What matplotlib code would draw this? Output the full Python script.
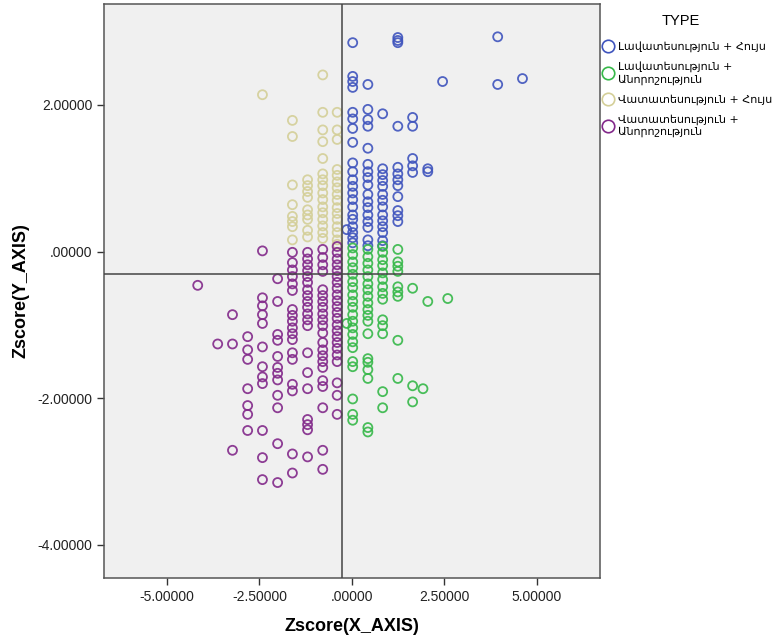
import matplotlib
matplotlib.use("Agg")
import matplotlib.pyplot as plt
from matplotlib.lines import Line2D
import numpy as np

# Groups and colours
type_labels = [
    "Լավատեսություն + Հույս",
    "Լավատեսություն +\nԱնորոշություն",
    "Վատատեսություն + Հույս",
    "Վատատեսություն +\nԱնորոշություն",
]
type_colors = ["#3f54bd", "#36b849", "#d4cf98", "#82298a"]

# Data: (Zscore X column, list of Zscore Y values)
blue_cols = [
    (-0.14, [0.30]),
    (0.02, [2.85, 2.39, 2.32, 2.24, 1.90, 1.81, 1.68, 1.49, 1.21, 1.09, 0.98, 0.89,
            0.80, 0.71, 0.61, 0.50, 0.44, 0.34, 0.26, 0.19, 0.12]),
    (0.43, [2.28, 1.94, 1.80, 1.71, 1.41, 1.19, 1.09, 1.01, 0.91, 0.78, 0.68, 0.60,
            0.50, 0.41, 0.33, 0.16, 0.08]),
    (0.83, [1.88, 1.13, 1.05, 0.97, 0.89, 0.78, 0.70, 0.61, 0.50, 0.42, 0.34, 0.26,
            0.15, 0.08]),
    (1.24, [2.92, 2.88, 2.85, 1.71, 1.15, 1.06, 0.98, 0.90, 0.75, 0.56, 0.49, 0.41]),
    (1.64, [1.83, 1.71, 1.27, 1.17, 1.08]),
    (2.05, [1.13, 1.09]),
    (2.45, [2.32]),
    (3.94, [2.93, 2.28]),
    (4.61, [2.36]),
]

green_cols = [
    (-0.14, [-0.98]),
    (0.02, [0.05, -0.04, -0.14, -0.22, -0.31, -0.41, -0.49, -0.59, -0.68, -0.76,
            -0.86, -0.95, -1.04, -1.13, -1.23, -1.31, -1.50, -1.57, -2.01, -2.22, -2.30]),
    (0.43, [0.03, -0.07, -0.16, -0.25, -0.34, -0.44, -0.52, -0.61, -0.70, -0.79,
            -0.87, -0.95, -1.12, -1.46, -1.51, -1.61, -1.73, -2.40, -2.46]),
    (0.83, [0.07, -0.01, -0.11, -0.19, -0.29, -0.38, -0.48, -0.57, -0.65, -0.93,
            -1.01, -1.12, -1.91, -2.13]),
    (1.24, [0.03, -0.14, -0.20, -0.27, -0.48, -0.55, -0.61, -1.21, -1.73]),
    (1.64, [-0.50, -1.83, -2.05]),
    (1.92, [-1.87]),
    (2.05, [-0.68]),
    (2.59, [-0.64]),
]

yellow_cols = [
    (-2.42, [2.14]),
    (-1.61, [1.79, 1.57, 0.91, 0.64, 0.48, 0.41, 0.34, 0.16]),
    (-1.20, [0.98, 0.90, 0.82, 0.74, 0.57, 0.50, 0.44, 0.29, 0.20]),
    (-0.79, [2.41, 1.90, 1.66, 1.50, 1.27, 1.06, 0.98, 0.90, 0.80, 0.71, 0.61, 0.53,
             0.44, 0.35, 0.26, 0.18]),
    (-0.40, [1.90, 1.66, 1.53, 1.12, 1.04, 0.95, 0.87, 0.78, 0.70, 0.60, 0.52, 0.44,
             0.34, 0.26, 0.16, 0.10]),
]

purple_cols = [
    (-4.17, [-0.46]),
    (-3.63, [-1.26]),
    (-3.23, [-0.86, -1.26, -2.71]),
    (-2.82, [-1.16, -1.34, -1.47, -1.87, -2.10, -2.22, -2.44]),
    (-2.42, [0.01, -0.63, -0.74, -0.86, -0.98, -1.30, -1.57, -1.71, -1.80, -2.44,
             -2.81, -3.11]),
    (-2.01, [-0.37, -0.68, -1.13, -1.21, -1.43, -1.58, -1.66, -1.75, -1.96, -2.13,
             -2.62, -3.15]),
    (-1.61, [-0.01, -0.15, -0.25, -0.34, -0.44, -0.53, -0.79, -0.87, -0.95, -1.04,
             -1.12, -1.20, -1.38, -1.47, -1.81, -1.90, -2.76, -3.02]),
    (-1.20, [-0.01, -0.10, -0.18, -0.26, -0.34, -0.42, -0.52, -0.60, -0.68, -0.76,
             -0.85, -0.93, -1.01, -1.38, -1.65, -1.87, -2.29, -2.36, -2.43, -2.80]),
    (-0.79, [0.03, -0.08, -0.18, -0.27, -0.52, -0.60, -0.68, -0.76, -0.85, -0.93,
             -1.01, -1.11, -1.24, -1.34, -1.42, -1.50, -1.58, -1.76, -1.84, -2.13,
             -2.71, -2.97]),
    (-0.40, [0.07, -0.01, -0.10, -0.18, -0.26, -0.34, -0.42, -0.50, -0.59, -0.67,
             -0.75, -0.83, -0.91, -1.00, -1.08, -1.16, -1.24, -1.32, -1.41, -1.50,
             -1.79, -1.96, -2.22]),
]

# reference (mean) lines
x_ref = -0.27
y_ref = -0.31

x_ticks = [-5.0, -2.5, 0.0, 2.5, 5.0]
x_ticklabels = ["-5.00000", "-2.50000", ".00000", "2.50000", "5.00000"]
y_ticks = [2.0, 0.0, -2.0, -4.0]
y_ticklabels = ["2.00000", ".00000", "-2.00000", "-4.00000"]


def flatten(cols):
    xs, ys = [], []
    for xv, yl in cols:
        xs.extend([xv] * len(yl))
        ys.extend(yl)
    return np.array(xs), np.array(ys)


plt.rcParams['font.family'] = ['Liberation Sans Narrow', 'Liberation Sans', 'DejaVu Sans']

fig = plt.figure(figsize=(7.83, 6.35), dpi=100)
ax = fig.add_axes([0.133, 0.090, 0.633, 0.904])
ax.set_facecolor("#f0f0f0")

groups = [blue_cols, green_cols, yellow_cols, purple_cols]
for cols, color in zip(groups, type_colors):
    xs, ys = flatten(cols)
    ax.scatter(xs, ys, s=42, facecolors='none', edgecolors=color,
               linewidths=1.3, alpha=0.9, zorder=3)

ax.axvline(x_ref, color="#444444", lw=1.1, zorder=4)
ax.axhline(y_ref, color="#444444", lw=1.1, zorder=4)

ax.set_xlim(-6.7, 6.7)
ax.set_ylim(-4.45, 3.38)
ax.set_xticks(x_ticks)
ax.set_xticklabels(x_ticklabels)
ax.set_yticks(y_ticks)
ax.set_yticklabels(y_ticklabels)
ax.tick_params(direction='out', length=5, width=1, colors="#333333",
               labelsize=10, labelcolor="#222222")

for sp in ax.spines.values():
    sp.set_color("#555555")
    sp.set_linewidth(1.1)

ax.set_xlabel("Zscore(X_AXIS)", fontsize=13, fontweight='bold', labelpad=10)
ax.set_ylabel("Zscore(Y_AXIS)", fontsize=13, fontweight='bold', labelpad=6)

handles = [Line2D([], [], linestyle='none', marker='o', markersize=9,
                  markerfacecolor='none', markeredgecolor=c, markeredgewidth=1.2)
           for c in type_colors]
leg = ax.legend(handles, type_labels, title="TYPE", loc='upper left',
                bbox_to_anchor=(0.995, 0.993), frameon=False,
                prop={'family': ['DejaVu Sans'], 'size': 8.0},
                title_fontsize=10.5, handletextpad=0.55, handlelength=0.7,
                borderaxespad=0.2, labelspacing=0.85)
leg._legend_box.align = "left"
leg._legend_box.sep = 9
leg.get_title().set_position((58, 0))
for t in leg.get_texts():
    t.set_linespacing(1.25)

fig.savefig("out.png", dpi=100)
